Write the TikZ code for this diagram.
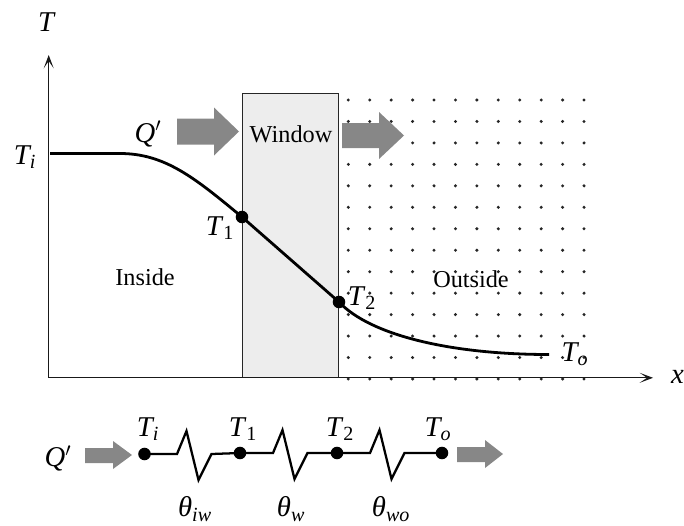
\documentclass[tikz,border=0pt]{standalone}
\usepackage{amsmath}
\usepackage{fontspec}
\setmainfont{Liberation Serif}
\usetikzlibrary{arrows.meta,shapes.arrows}
\definecolor{flowGray}{HTML}{878787}
\definecolor{paneGray}{HTML}{EDEDED}
\newcommand{\tvar}[2]{\textit{#1}\kern-.06em$_{\text{\textit{#2}}}$}
\newcommand{\tnum}[1]{\textit{T}$_{\text{#1}}$}
\newcommand{\qflow}{\textit{Q}$'$}
\newcommand{\thvar}[1]{\textit{θ}$_{\text{\textit{#1}}}$}
\tikzset{
  lbl/.style={inner sep=0pt,font=\fontsize{18.2}{20}\selectfont},
  mlbl/.style={inner sep=0pt,font=\fontsize{21.5}{24}\selectfont},
  axis/.style={draw=black!90,line width=.95pt,-{Stealth[length=10pt,width=7.5pt,inset=5.5pt]}},
  profile/.style={line width=2.1pt},
  wire/.style={line width=1.7pt},
  tnode/.style={circle,fill=black,inner sep=0pt,minimum size=9.4pt},
  flowhead/.style={fill=flowGray},
}
\begin{document}
\begin{tikzpicture}[x=.75pt,y=-.75pt]
  \useasboundingbox (0,0) rectangle (684,525);
  \clip (0,0) rectangle (684,525);

  % window pane
  \node[draw=black!85,line width=.7pt,fill=paneGray,minimum width=72.3pt,minimum height=213.4pt,
        inner sep=0pt,anchor=north west] (pane) at (242,92.5) {};

  % outside dots
  \foreach \col in {0,...,11}
    \foreach \row in {0,...,13}
      \fill[black!85] (348.3+21.43*\col,100+21.46*\row) circle (1.25pt);

  % axes
  \coordinate (origin) at (48.7,377.8);
  \coordinate (ytip) at (48.7,55);
  \coordinate (xtip) at (653,377.8);
  \draw[axis] (origin) -- (ytip);
  \draw[axis] (origin) -- (xtip);

  % flow arrows, top
  \fill[flowhead] (177,118.5) -- (214,118.5) -- (214,107.5) -- (239,131.5) -- (214,155.5) -- (214,144.5) -- (177,144.5) -- cycle;
  \fill[flowhead] (342,123) -- (379,123) -- (379,112) -- (404,135.5) -- (379,159) -- (379,148) -- (342,148) -- cycle;

  % temperature profile
  \coordinate (profA) at (50,153.5);
  \node[tnode] (wallOne) at (242,217) {};
  \node[tnode] (wallTwo) at (339,302) {};
  \coordinate (profB) at (549,354.5);
  \draw[profile] (profA) -- (120,153.5) .. controls (165,153.5) and (195,178) .. (wallOne.center)
    -- (wallTwo.center) .. controls (370,335) and (450,354.5) .. (profB);

  % labels, top
  \node[mlbl] (axisT) at (47,22) {\textit{T}};
  \node[mlbl,anchor=east] (axisX) at (684,377) {\textit{x}};
  \node[mlbl] (topTi) at (25,157) {\tvar{T}{i}};
  \node[mlbl] (topQ) at (148,134) {\qflow};
  \node[lbl] (windowLbl) at (291,134) {Window};
  \node[mlbl] (topOne) at (220,228) {\tnum{1}};
  \node[mlbl] (topTwo) at (362,298) {\tnum{2}};
  \node[lbl] (insideLbl) at (145,277) {Inside};
  \node[lbl] (outsideLbl) at (471,279) {Outside};
  \node[mlbl] (topTo) at (575,354) {\tvar{T}{o}};

  % resistance network
  \node[tnode] (netI) at (144.5,454) {};
  \node[tnode] (netOne) at (240,453) {};
  \node[tnode] (netTwo) at (337,453) {};
  \node[tnode] (netO) at (442,453) {};
  \foreach \a/\b/\run in {netI/netOne/32.5,netOne/netTwo/33,netTwo/netO/33}
    \draw[wire] (\a.center) -- ++(\run,0) -- ++(9.5,-23) -- ++(12,49) -- ++(13,-26) -- (\b.center);

  \fill[flowhead] (85,448) -- (113,448) -- (113,441) -- (132,455) -- (113,469) -- (113,463) -- (85,463) -- cycle;
  \fill[flowhead] (457,447) -- (485,447) -- (485,440) -- (503,454) -- (485,468) -- (485,462) -- (457,462) -- cycle;

  \node[mlbl] (netQ) at (58,458) {\qflow};
  \node[mlbl] (lblI) at (148,429) {\tvar{T}{i}};
  \node[mlbl] (lblOne) at (243,429) {\tnum{1}};
  \node[mlbl] (lblTwo) at (340,429) {\tnum{2}};
  \node[mlbl] (lblO) at (438,429) {\tvar{T}{o}};
  \node[mlbl] (thIw) at (195,509) {\thvar{iw}};
  \node[mlbl] (thW) at (291,509) {\thvar{w}};
  \node[mlbl] (thWo) at (391,509) {\thvar{wo}};
\end{tikzpicture}
\end{document}
